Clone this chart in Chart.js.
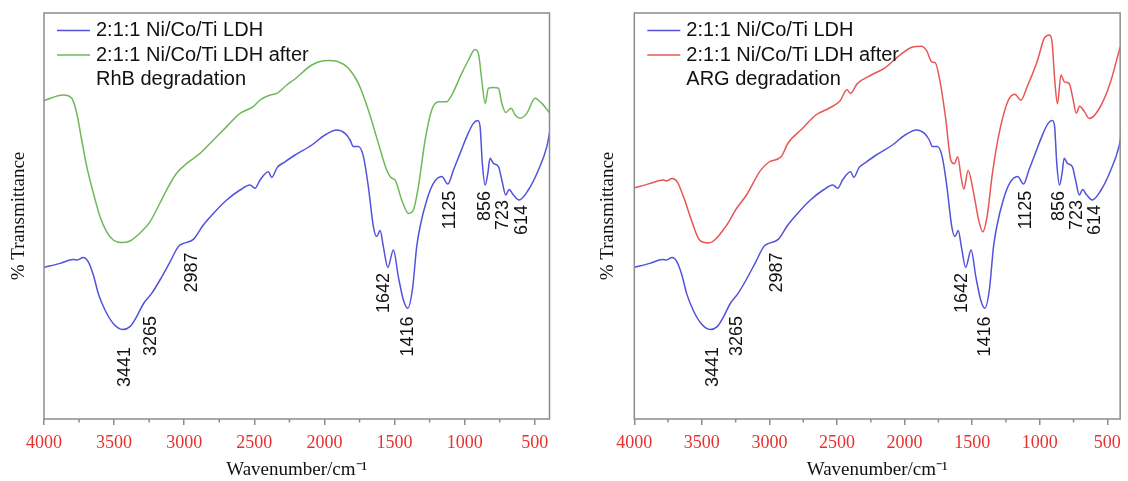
<!DOCTYPE html>
<html>
<head>
<meta charset="utf-8">
<script src="https://cdn.jsdelivr.net/npm/chart.js@4.4.0/dist/chart.umd.min.js"></script>
<style>
  body { margin: 0; background: #fff; width: 1128px; height: 481px; overflow: hidden; position: relative; }
  .panel { position: absolute; top: 0; height: 481px; }
  #leftWrap { left: 0; width: 580px; }
  #rightWrap { left: 580px; width: 548px; }
</style>
</head>
<body>
<div class="panel" id="leftWrap"><canvas id="leftChart"></canvas></div>
<div class="panel" id="rightWrap"><canvas id="rightChart"></canvas></div>
<script>
// =======================
// Espectros FTIR (% transmitancia relativa)
// =======================

// Eje X: número de onda (cm-1)
const xTicks = [4000, 3500, 3000, 2500, 2000, 1500, 1000, 500];
const xMinorTicks = [3750, 3250, 2750, 2250, 1750, 1250, 750];

// 2:1:1 Ni/Co/Ti LDH (curva azul, igual en los dos paneles)
const wnBlue = [4000, 3886, 3791, 3762, 3720, 3684, 3648, 3613, 3565, 3506,
  3439, 3387, 3339, 3292, 3232, 3173, 3101, 3042, 3006, 2935,
  2864, 2792, 2697, 2602, 2531, 2495, 2459, 2400, 2376, 2336,
  2281, 2210, 2090, 1996, 1912, 1853, 1817, 1794, 1758, 1722,
  1687, 1651, 1627, 1603, 1580, 1548, 1508, 1473, 1437, 1406,
  1373, 1342, 1318, 1270, 1223, 1163, 1120, 1080, 1033, 985,
  938, 906, 890, 874, 854, 835, 819, 795, 759, 735,
  707, 683, 652, 612, 546, 474, 414, 391];
const tBlue = [37.9, 38.9, 39.9, 39.75, 40.4, 39.3, 36, 31.4, 27.25, 23.9,
  22.4, 23.1, 25.6, 28.75, 31.4, 34.75, 39.3, 43.1, 43.9, 44.9,
  48.5, 51.4, 54.75, 57.25, 58.5, 57.7, 59.75, 61.8, 60.4, 62.9,
  64.3, 66, 68.5, 71, 72.25, 71.4, 69.75, 68.1, 68.1, 65.6,
  58.1, 48.1, 45.6, 47.1, 43.1, 37.9, 42.25, 35.6, 29.75, 27.7,
  32.25, 43.1, 48.1, 54.75, 58.9, 60.6, 58.75, 62.25, 66.4, 70.6,
  73.9, 74.6, 73.1, 63.9, 58.5, 61.4, 65.2, 63.9, 63.1, 59.75,
  56, 57.4, 56, 54.75, 57.25, 62.25, 68.1, 72.25];

// Después de la degradación de RhB (curva verde, panel izquierdo)
const wnGreen = [4000, 3862, 3802, 3767, 3731, 3695, 3648, 3601, 3553, 3506,
  3446, 3387, 3315, 3244, 3173, 3113, 3053, 2982, 2887, 2792,
  2697, 2602, 2507, 2459, 2388, 2340, 2269, 2210, 2090, 1972,
  1901, 1829, 1758, 1687, 1615, 1556, 1520, 1496, 1449, 1401,
  1366, 1330, 1282, 1235, 1187, 1128, 1092, 1021, 973, 926,
  902, 878, 854, 831, 795, 759, 735, 707, 669, 640,
  605, 557, 498, 450, 391];
const tGreen = [79.6, 81, 80.2, 76.5, 69.75, 63.1, 56.5, 50.6, 46.8, 44.75,
  44.1, 44.5, 46.5, 49.3, 54, 58.1, 61.5, 63.9, 66.4, 69.75,
  73.1, 76.4, 78.1, 79.75, 81, 81.4, 83.5, 85, 88.5, 89.6,
  89.3, 87.7, 83.9, 77.25, 68.9, 62.25, 60.2, 59.75, 54.75, 51.4,
  52.25, 58.1, 69.75, 77.25, 79.3, 79.3, 81, 86.4, 89.75, 92.4,
  91.4, 84.75, 78.9, 82.7, 82.9, 82.7, 78.9, 76.6, 77.7, 76,
  75.2, 76.4, 80.2, 78.9, 76.4];

// Después de la degradación de ARG (curva roja, panel derecho)
const wnRed = [4000, 3887, 3785, 3760, 3721, 3682, 3631, 3579, 3515, 3451,
  3324, 3246, 3170, 3067, 3003, 2914, 2862, 2760, 2657, 2555,
  2478, 2426, 2401, 2350, 2247, 2145, 2042, 1940, 1876, 1837,
  1798, 1774, 1735, 1696, 1658, 1632, 1607, 1581, 1561, 1530,
  1491, 1453, 1422, 1389, 1351, 1299, 1235, 1184, 1140, 1094,
  1018, 966, 928, 909, 889, 869, 843, 818, 782, 756,
  730, 705, 671, 633, 557, 480, 405];
const tRed = [57.75, 58.85, 59.75, 59.5, 60.15, 59.3, 55.1, 49.9, 44.65, 44,
  48.1, 52.5, 56, 62.1, 64.25, 65.55, 69, 72.5, 76, 77.75,
  79.5, 82.3, 81.4, 83.85, 86, 87.8, 90.8, 93, 93.2, 92.1,
  89.25, 89.1, 83.85, 75.1, 64.7, 63.8, 65.55, 60.3, 57.5, 62.1,
  56.85, 49.9, 46.8, 50.75, 61.2, 71.65, 79.5, 81.2, 79.7, 83,
  89.5, 95.2, 96, 94.3, 84.7, 78.8, 86, 84.3, 83.85, 80.35,
  76.45, 78.2, 76.9, 75.1, 77.75, 83.85, 93];

// Bandas marcadas sobre la curva azul (texto, número de onda, transmitancia)
const peakLabels = ['3441', '3265', '2987', '1642', '1416', '1125', '856', '723', '614'];
const peakX = [3420, 3237, 2946, 1575, 1404, 1104, 854, 726, 590];
const peakY = [13, 20.75, 36.6, 31.5, 20.6, 52.25, 53.25, 51, 49.75];

// Textos de la leyenda
const legendBlue = ['2:1:1 Ni/Co/Ti LDH'];
const legendGreen = ['2:1:1 Ni/Co/Ti LDH after', 'RhB degradation'];
const legendRed = ['2:1:1 Ni/Co/Ti LDH after', 'ARG degradation'];

// =======================
// Utilidades
// =======================
const toPoints = (xs, ys) => xs.map((x, i) => ({ x: x, y: ys[i] }));

const frameColor = '#8c8c8c';

// Marco, marcas menores, leyenda y etiquetas de picos
const panelPlugin = {
  id: 'panelDecor',
  afterDraw(chart) {
    const ctx = chart.ctx;
    const a = chart.chartArea;
    const xs = chart.scales.x;
    const ys = chart.scales.y;
    ctx.save();

    // marco gris
    ctx.strokeStyle = frameColor;
    ctx.lineWidth = 1.5;
    ctx.strokeRect(a.left, a.top, a.right - a.left, a.bottom - a.top);

    // marcas menores del eje X
    xMinorTicks.forEach(v => {
      const px = xs.getPixelForValue(v);
      ctx.beginPath();
      ctx.moveTo(px, a.bottom);
      ctx.lineTo(px, a.bottom + 3.5);
      ctx.stroke();
    });

    // leyenda
    ctx.font = '20px "Liberation Sans", Arial, sans-serif';
    ctx.fillStyle = '#111';
    ctx.textAlign = 'left';
    ctx.textBaseline = 'alphabetic';
    const lines = chart.options.plugins.panelDecor.legend;
    let row = 0;
    chart.data.datasets.forEach((ds, i) => {
      const baseY = a.top + 23 + row * 24.5;
      ctx.strokeStyle = ds.borderColor;
      ctx.lineWidth = 1.5;
      ctx.beginPath();
      ctx.moveTo(a.left + 13, baseY - 5.5);
      ctx.lineTo(a.left + 46, baseY - 5.5);
      ctx.stroke();
      lines[i].forEach(t => {
        ctx.fillText(t, a.left + 52, a.top + 23 + row * 24.5);
        row++;
      });
    });

    // etiquetas de picos (giradas)
    ctx.font = '18px "Liberation Sans", Arial, sans-serif';
    ctx.fillStyle = '#111';
    ctx.textAlign = 'center';
    ctx.textBaseline = 'middle';
    peakLabels.forEach((t, i) => {
      ctx.save();
      ctx.translate(xs.getPixelForValue(peakX[i]), ys.getPixelForValue(peakY[i]));
      ctx.rotate(-Math.PI / 2);
      ctx.fillText(t, 0, 0);
      ctx.restore();
    });

    ctx.restore();
  }
};

function makePanel(canvasId, secondSeries, opts) {
  const ctx = document.getElementById(canvasId).getContext('2d');
  return new Chart(ctx, {
    type: 'scatter',
    data: {
      datasets: [
        {
          label: legendBlue[0],
          data: toPoints(wnBlue, tBlue),
          borderColor: '#5252dc',
          borderWidth: 1.5,
          showLine: true,
          pointRadius: 0,
          cubicInterpolationMode: 'monotone'
        },
        {
          label: opts.legend2[0],
          data: secondSeries,
          borderColor: opts.color2,
          borderWidth: 1.5,
          showLine: true,
          pointRadius: 0,
          cubicInterpolationMode: 'monotone'
        }
      ]
    },
    options: {
      responsive: true,
      maintainAspectRatio: false,
      animation: false,
      layout: { padding: { left: 0, right: opts.padRight, top: 13, bottom: 0 } },
      plugins: {
        legend: { display: false },
        tooltip: { enabled: false },
        panelDecor: { legend: [legendBlue, opts.legend2] }
      },
      scales: {
        x: {
          type: 'linear',
          reverse: true,
          min: opts.xMin,
          max: 4000,
          afterBuildTicks: scale => { scale.ticks = xTicks.map(v => ({ value: v })); },
          afterFit: scale => { scale.height = 62; },
          border: { display: false },
          grid: {
            display: true,
            drawOnChartArea: false,
            drawTicks: true,
            tickLength: 6,
            color: frameColor,
            lineWidth: 1.5,
            tickWidth: 1.5
          },
          ticks: {
            autoSkip: false,
            maxRotation: 0,
            padding: 7,
            color: '#e8302e',
            font: { family: '"Liberation Serif", "Times New Roman", serif', size: 18 },
            callback: v => String(v)
          },
          title: {
            display: true,
            text: 'Wavenumber/cm\u207B\u00B9',
            color: '#111',
            font: { family: '"Liberation Serif", "Times New Roman", serif', size: 19 },
            padding: { top: 0, bottom: 0 }
          }
        },
        y: {
          min: 0,
          max: 101.5,
          afterFit: scale => { scale.width = opts.yWidth; },
          border: { display: false },
          grid: { display: false },
          ticks: { display: false },
          title: {
            display: true,
            text: '% Transmittance',
            color: '#111',
            font: { family: '"Liberation Serif", "Times New Roman", serif', size: 19 },
            padding: { top: opts.yTitlePad, bottom: 0 }
          }
        }
      }
    },
    plugins: [panelPlugin]
  });
}

// Panel izquierdo: RhB
makePanel('leftChart', toPoints(wnGreen, tGreen), {
  color2: '#6fb85a',
  legend2: legendGreen,
  xMin: 395,
  padRight: 30.5,
  yWidth: 44,
  yTitlePad: 7.5
});

// Panel derecho: ARG
makePanel('rightChart', toPoints(wnRed, tRed), {
  color2: '#e85656',
  legend2: legendRed,
  xMin: 405,
  padRight: 7,
  yWidth: 54.3,
  yTitlePad: 16.5
});
</script>
</body>
</html>
